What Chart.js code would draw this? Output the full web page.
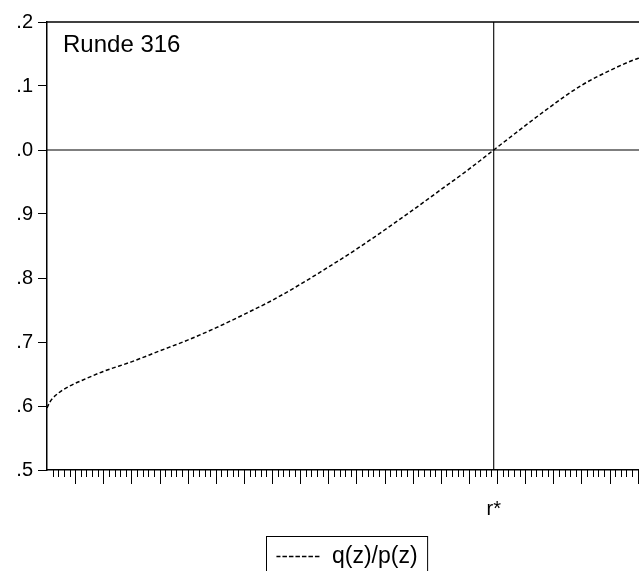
<!DOCTYPE html>
<html>
<head>
<meta charset="utf-8">
<script src="https://cdn.jsdelivr.net/npm/chart.js@4.4.1/dist/chart.umd.min.js"></script>
<style>
  html, body { margin: 0; padding: 0; background: #fff; overflow: hidden; }
  #wrap { position: absolute; left: 0; top: 0; width: 696px; height: 578px; }
</style>
</head>
<body>
<div id="wrap"><canvas id="chart" width="696" height="578"></canvas></div>
<script>
// x positions (index units along the horizontal axis) and q(z)/p(z) values
const xs = [0, 0.5, 1, 2, 4, 7, 10, 15, 20, 25, 30, 35, 40, 45, 50, 55, 60, 65, 70, 75, 79.4, 85, 90, 95, 100, 105, 110, 115]
const ys = [0.597, 0.606, 0.612, 0.620, 0.631, 0.643, 0.654, 0.669, 0.686, 0.703, 0.722, 0.743, 0.765, 0.790, 0.817, 0.845, 0.875, 0.906, 0.938, 0.970, 1.0, 1.038, 1.071, 1.101, 1.124, 1.143, 1.154, 1.159]
const rStar = 79.4
const refLevel = 1.0
const xMax = 115
const yTicks = [0.5, 0.6, 0.7, 0.8, 0.9, 1.0, 1.1, 1.2]
const seriesLabel = 'q(z)/p(z)'
const roundLabel = 'Runde 316'

const FONT = 'Liberation Sans, Arial, Helvetica, sans-serif'

const curve = xs.map((x, i) => ({ x, y: ys[i] }))

const extras = {
  id: 'extras',
  afterDraw(chart) {
    const { ctx, chartArea: a, scales: { x } } = chart
    ctx.save()
    // top frame line
    ctx.strokeStyle = '#000'
    ctx.lineWidth = 1.5
    ctx.beginPath()
    ctx.moveTo(a.left, a.top)
    ctx.lineTo(a.right + 2, a.top)
    ctx.stroke()
    // minor / major ticks on the x axis
    ctx.lineWidth = 1
    for (let i = 1; i <= xMax; i++) {
      const px = Math.round(x.getPixelForValue(i)) + 0.5
      const len = i % 5 === 0 ? 14 : 7
      ctx.beginPath()
      ctx.moveTo(px, a.bottom)
      ctx.lineTo(px, a.bottom + len)
      ctx.stroke()
    }
    // round label
    ctx.fillStyle = '#000'
    ctx.font = '24px ' + FONT
    ctx.textBaseline = 'alphabetic'
    ctx.fillText(roundLabel, a.left + 16, a.top + 30)
    // legend frame
    const hb = chart.legend.legendHitBoxes[0]
    if (hb) {
      ctx.lineWidth = 1
      ctx.strokeRect(Math.round(hb.left - 10) + 0.5, Math.round(hb.top - 9) + 0.5, hb.width + 20, 60)
    }
    ctx.restore()
  }
}

new Chart(document.getElementById('chart'), {
  type: 'line',
  data: {
    datasets: [
      {
        label: seriesLabel,
        data: curve,
        borderColor: '#000',
        borderWidth: 1.5,
        borderDash: [4, 2.5],
        pointRadius: 0,
        cubicInterpolationMode: 'monotone',
        fill: false
      },
      {
        label: 'rstar',
        data: [{ x: rStar, y: 0.5 }, { x: rStar, y: 1.2 }],
        borderColor: '#000',
        borderWidth: 1.1,
        pointRadius: 0
      },
      {
        label: 'ref',
        data: [{ x: 0, y: refLevel }, { x: xMax, y: refLevel }],
        borderColor: '#000',
        borderWidth: 1.1,
        pointRadius: 0
      }
    ]
  },
  options: {
    responsive: false,
    animation: false,
    layout: { padding: { top: 22, left: 0, right: 2, bottom: 0 } },
    plugins: {
      tooltip: { enabled: false },
      legend: {
        position: 'bottom',
        labels: {
          filter: item => item.text === seriesLabel,
          boxWidth: 44,
          boxHeight: 0,
          color: '#000',
          font: { family: FONT, size: 23 },
          padding: 10
        }
      }
    },
    scales: {
      x: {
        type: 'linear',
        min: 0,
        max: xMax,
        afterBuildTicks: s => { s.ticks = [{ value: rStar }] },
        afterFit: s => {
          const c = s.chart
          s.height = c.height - c.legend.height - 470
        },
        ticks: {
          callback: () => 'r*',
          color: '#000',
          font: { family: FONT, size: 20 },
          padding: 27,
          maxRotation: 0
        },
        grid: { display: false, drawTicks: false },
        border: { display: true, color: '#000', width: 1.5 }
      },
      y: {
        type: 'linear',
        min: 0.5,
        max: 1.2,
        afterBuildTicks: s => { s.ticks = yTicks.map(v => ({ value: v })) },
        afterFit: s => { s.width = 47 },
        ticks: {
          callback: v => v.toFixed(1).replace(/^\d/, ''),
          color: '#000',
          font: { family: FONT, size: 20 },
          padding: 5
        },
        grid: { drawOnChartArea: false, tickLength: 9, color: '#000', tickWidth: 1 },
        border: { display: true, color: '#000', width: 1.5 }
      }
    }
  },
  plugins: [extras]
})
</script>
</body>
</html>
